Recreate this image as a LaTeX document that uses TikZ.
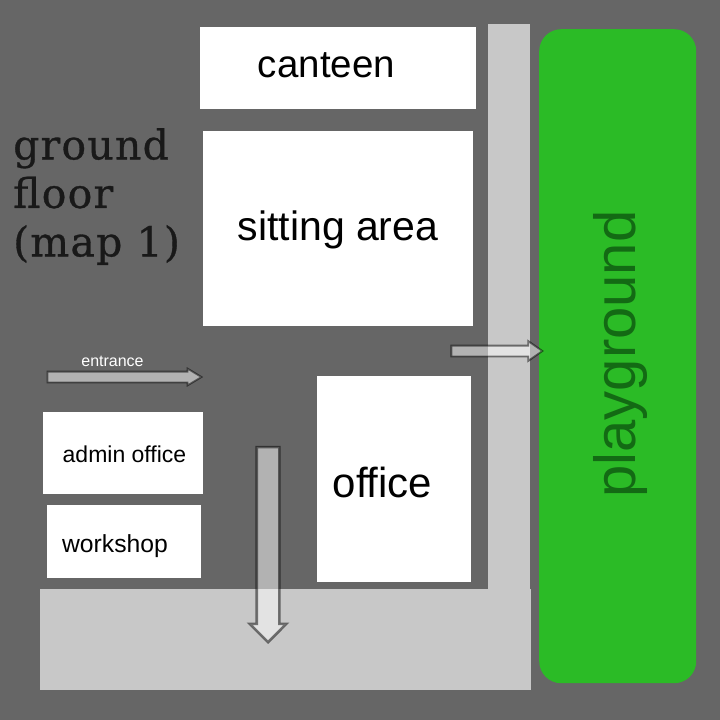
\documentclass[tikz,border=0pt]{standalone}
\usepackage{fontspec}
\setmainfont{Liberation Sans}
\newfontfamily\slabfont[FakeBold=0.8, LetterSpace=3]{DejaVu Serif}
\usetikzlibrary{shapes.arrows}
\definecolor{floorgrey}{HTML}{666666}
\definecolor{pathgrey}{HTML}{C8C8C8}
\definecolor{fieldgreen}{HTML}{2BBB26}
\definecolor{fieldtext}{HTML}{136A14}
\tikzset{
  room/.style={rectangle, fill=white, inner sep=0pt, anchor=north west},
  path strip/.style={rectangle, fill=pathgrey, inner sep=0pt, anchor=north west},
  block arrow/.style={single arrow, draw=black, line width=1.8pt, fill=white, fill opacity=0.5, draw opacity=0.5, inner sep=4.5pt, minimum width=10pt, single arrow head extend=3pt, single arrow tip angle=62, single arrow head indent=0pt, anchor=center},
  room text/.style={text=black, inner sep=0pt}
}
\begin{document}
\begin{tikzpicture}[x=1pt, y=-1pt]
\useasboundingbox (0,0) rectangle (720,720);
\fill[floorgrey] (0,0) rectangle (720,720);

\node (upright) at (488, 24) [path strip, minimum width=42pt, minimum height=570pt] {};
\node (bottom) at (40, 589) [path strip, minimum width=491pt, minimum height=101pt] {};
\node (field) at (539, 29) [rectangle, rounded corners=22pt, fill=fieldgreen, inner sep=0pt, anchor=north west, minimum width=157pt, minimum height=654pt] {};

\node (canteen) at (200, 27) [room, minimum width=276pt, minimum height=82pt] {};
\node (sitting) at (203, 131) [room, minimum width=270pt, minimum height=195pt] {};
\node (office) at (317, 376) [room, minimum width=154pt, minimum height=206pt] {};
\node (admin) at (43, 412) [room, minimum width=160pt, minimum height=82pt] {};
\node (workshop) at (47, 505) [room, minimum width=154pt, minimum height=73pt] {};

\node (canteentext) at (326.5, 65) [room text, font=\fontsize{38.5}{38.5}\selectfont] {canteen};
\node (sittingtext) at (338, 230) [room text, font=\fontsize{41}{41}\selectfont] {sitting area};
\node (officetext) at (382.5, 482) [room text, font=\fontsize{42}{42}\selectfont] {office};
\node (admintext) at (124.5, 454) [room text, font=\fontsize{23}{23}\selectfont] {admin office};
\node (workshoptext) at (115, 546) [room text, font=\fontsize{24.7}{24.7}\selectfont] {workshop};
\node (fieldtext) at (620, 354) [room text, text=fieldtext, rotate=90, font=\fontsize{58}{58}\selectfont] {playground};

\node (title) at (13, 128) [anchor=north west, inner sep=0pt, align=left, text=black!90, font=\slabfont\fontsize{41}{48.5}\selectfont] {ground\\floor\\(map 1)};
\node (entrancetext) at (112.5, 361) [inner sep=0pt, text=white, font=\fontsize{16}{16}\selectfont] {entrance};

\node (entrancearrow) at (120, 377) [block arrow, minimum height=154pt] {};
\node (playarrow) at (493, 351) [block arrow, minimum height=91pt, single arrow head extend=4.5pt, single arrow tip angle=70] {};
\node (downarrow) at (268, 539) [block arrow, shape border rotate=270, minimum height=195pt, inner sep=10pt, minimum width=30pt, single arrow head extend=7pt, single arrow tip angle=90, line width=2.6pt] {};
\end{tikzpicture}
\end{document}
